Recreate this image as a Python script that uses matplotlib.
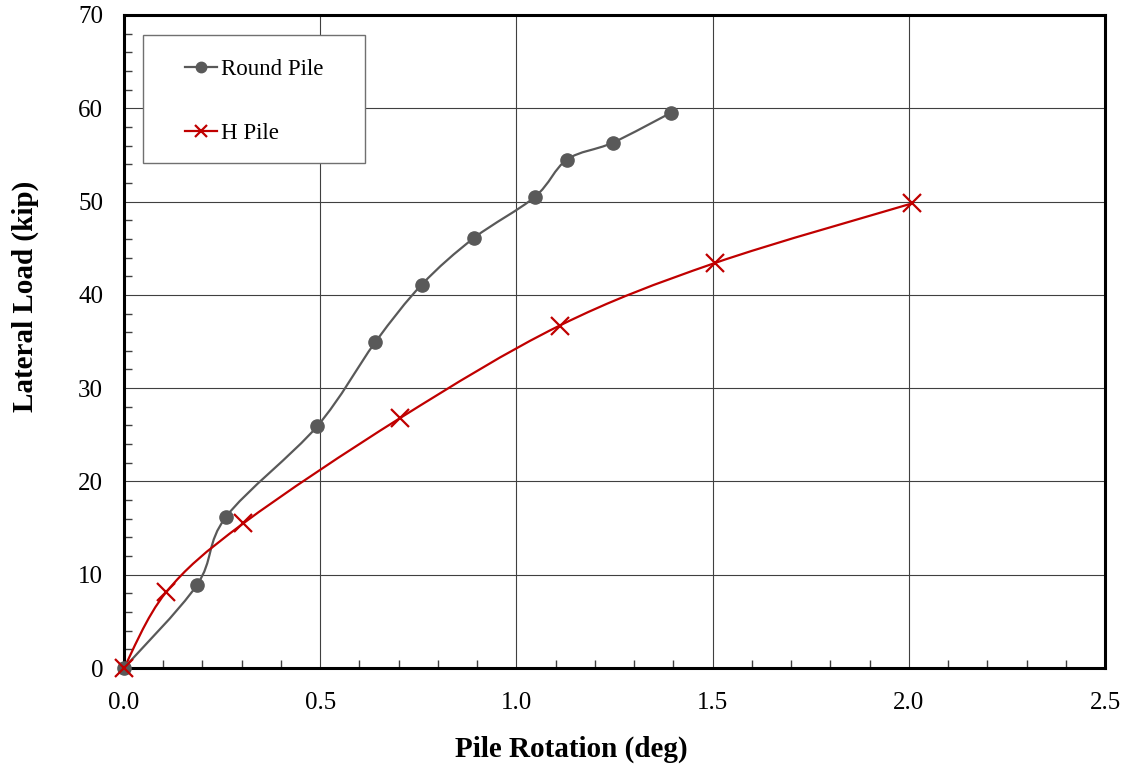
import matplotlib
matplotlib.use("Agg")
import matplotlib.pyplot as plt
from matplotlib.path import Path
from matplotlib.patches import PathPatch, Rectangle
from matplotlib.lines import Line2D
from matplotlib.ticker import MultipleLocator

#Data
roundRot = [0.0, 0.186, 0.260, 0.492, 0.640, 0.759, 0.892, 1.047, 1.129, 1.245, 1.393]
roundLoad = [0.0, 8.9, 16.2, 25.9, 34.9, 41.1, 46.1, 50.5, 54.5, 56.3, 59.5]
hRot = [0.0, 0.107, 0.304, 0.704, 1.110, 1.505, 2.008]
hLoad = [0.0, 8.1, 15.5, 26.8, 36.7, 43.4, 49.8]

grey = "#595959"
red = "#C00000"

plt.rcParams["font.family"] = ["Liberation Serif", "DejaVu Serif"]

#smoothSeries(xs, ys) -> Path
#Bezier path through the points, like Excel's smoothed line
def smoothSeries(xs, ys):
    pts = list(zip(xs, ys))
    n = len(pts)
    verts = [pts[0]]
    codes = [Path.MOVETO]
    for i in range(n - 1):
        p0 = pts[i - 1] if i > 0 else pts[i]
        p1 = pts[i]
        p2 = pts[i + 1]
        p3 = pts[i + 2] if i + 2 < n else pts[i + 1]
        c1 = (p1[0] + (p2[0] - p0[0]) / 6, p1[1] + (p2[1] - p0[1]) / 6)
        c2 = (p2[0] - (p3[0] - p1[0]) / 6, p2[1] - (p3[1] - p1[1]) / 6)
        verts += [c1, c2, p2]
        codes += [Path.CURVE4] * 3
    return Path(verts, codes)

fig = plt.figure(figsize=(11.27, 7.68), dpi=100)
ax = fig.add_axes([0.110, 0.1302, 0.8705, 0.8503])

ax.add_patch(PathPatch(smoothSeries(roundRot, roundLoad), facecolor="none",
                       edgecolor=grey, linewidth=1.6, zorder=3))
ax.plot(roundRot, roundLoad, linestyle="none", marker="o", markersize=9.5,
        color=grey, zorder=4, clip_on=False)
ax.add_patch(PathPatch(smoothSeries(hRot, hLoad), facecolor="none",
                       edgecolor=red, linewidth=1.6, zorder=3))
ax.plot(hRot, hLoad, linestyle="none", marker="x", markersize=13,
        markeredgewidth=1.6, color=red, zorder=4, clip_on=False)

ax.set_xlim(0, 2.5)
ax.set_ylim(0, 70)
ax.xaxis.set_major_locator(MultipleLocator(0.5))
ax.xaxis.set_minor_locator(MultipleLocator(0.1))
ax.yaxis.set_major_locator(MultipleLocator(10))
ax.yaxis.set_minor_locator(MultipleLocator(2))
ax.xaxis.set_major_formatter(lambda v, p: f"{v:.1f}")
ax.tick_params(which="major", length=0, labelsize=18)
ax.tick_params(axis="x", which="major", pad=17)
ax.tick_params(axis="y", which="major", pad=15)
ax.tick_params(which="minor", direction="in", length=5.5, width=1, color="#404040")
ax.grid(True, which="major", color="#404040", linewidth=0.8)
for s in ax.spines.values():
    s.set_linewidth(2.2)
    s.set_color("black")

#Axis titles sit where Excel put them (a bit off centre)
fig.text(571 / 1127, 1 - 749 / 768, "Pile Rotation (deg)", fontsize=21,
         fontweight="bold", ha="center", va="center")
fig.text(25 / 1127, 1 - 296 / 768, "Lateral Load (kip)", fontsize=21,
         fontweight="bold", ha="center", va="center", rotation=90)

#Legend: box drawn by hand, entries without frame
ax.add_patch(Rectangle((0.0193, 0.773), 0.2264, 0.1965, transform=ax.transAxes,
                       facecolor="white", edgecolor="#707070", linewidth=1, zorder=5))
handles = [Line2D([], [], color=grey, marker="o", markersize=7.5, linewidth=1.6),
           Line2D([], [], color=red, marker="x", markersize=9, markeredgewidth=1.6, linewidth=1.6)]
leg = ax.legend(handles, ["Round Pile", "H Pile"], loc="upper left",
                bbox_to_anchor=(0.0622, 0.932), frameon=False, fontsize=16.5,
                handlelength=1.4, handletextpad=0.15, labelspacing=1.85,
                borderpad=0, borderaxespad=0)
leg.set_zorder(6)

plt.savefig("out.png", dpi=100)
